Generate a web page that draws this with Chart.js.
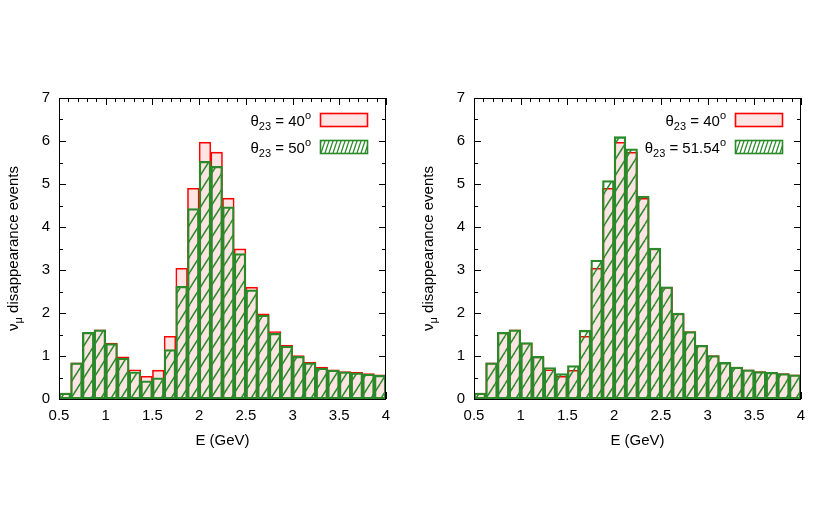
<!DOCTYPE html>
<html>
<head>
<meta charset="utf-8">
<script src="https://cdn.jsdelivr.net/npm/chart.js@4"></script>
<style>
  body { margin: 0; background: #fff; }
  #wrap { position: relative; width: 830px; height: 531px; }
  canvas { position: absolute; top: 0; }
</style>
</head>
<body>
<div id="wrap">
  <canvas id="leftChart" width="415" height="531" style="left:0"></canvas>
  <canvas id="rightChart" width="415" height="531" style="left:415px"></canvas>
</div>
<script>
// bin centres in GeV (bins 0.125 GeV wide, 0.5 .. 4)
const binCenters = [0.5625, 0.6875, 0.8125, 0.9375, 1.0625, 1.1875, 1.3125, 1.4375,
  1.5625, 1.6875, 1.8125, 1.9375, 2.0625, 2.1875, 2.3125, 2.4375, 2.5625, 2.6875,
  2.8125, 2.9375, 3.0625, 3.1875, 3.3125, 3.4375, 3.5625, 3.6875, 3.8125, 3.9375];

const events40 = [0.14, 0.84, 1.55, 1.61, 1.30, 0.98, 0.68, 0.53, 0.67, 1.46, 3.04, 4.90,
  5.97, 5.74, 4.67, 3.49, 2.60, 1.98, 1.57, 1.25, 1.01, 0.85, 0.74, 0.68, 0.64, 0.62, 0.59, 0.56];
const events50 = [0.14, 0.84, 1.55, 1.61, 1.29, 0.95, 0.63, 0.42, 0.49, 1.15, 2.62, 4.43,
  5.53, 5.41, 4.47, 3.38, 2.54, 1.95, 1.53, 1.23, 0.99, 0.84, 0.72, 0.67, 0.63, 0.61, 0.58, 0.55];
const events5154 = [0.14, 0.84, 1.55, 1.61, 1.31, 0.99, 0.73, 0.59, 0.78, 1.60, 3.23, 5.08,
  6.10, 5.82, 4.72, 3.51, 2.61, 2.00, 1.57, 1.25, 1.01, 0.85, 0.74, 0.68, 0.64, 0.62, 0.59, 0.56];

const xTicks = [0.5, 1, 1.5, 2, 2.5, 3, 3.5, 4];
const yTicks = [0, 1, 2, 3, 4, 5, 6, 7];

const RED = '#ff0000';
const PINK = '#ffe4e4';
const GREEN = '#2a8a2a';
const FONT = '"Liberation Sans", Arial, sans-serif';

function makeHatch(w, h, lw) {
  let c = document.createElement('canvas');
  c.width = w;
  c.height = h;
  let g = c.getContext('2d');
  g.strokeStyle = GREEN;
  g.lineWidth = lw;
  [-w, 0, w].forEach((dx) => {
    g.beginPath();
    g.moveTo(dx, h);
    g.lineTo(dx + w, 0);
    g.stroke();
  });
  return g.createPattern(c, 'repeat');
}

// draw pieces of text: [text, size, dy]
function drawParts(ctx, parts, xRight, y) {
  let w = 0;
  parts.forEach((p) => {
    ctx.font = p[1] + 'px ' + FONT;
    w += ctx.measureText(p[0]).width;
  });
  let x = xRight - w;
  parts.forEach((p) => {
    ctx.font = p[1] + 'px ' + FONT;
    ctx.fillText(p[0], x, y + p[2]);
    x += ctx.measureText(p[0]).width;
  });
}

const framePlugin = {
  id: 'frame',
  beforeDatasetsDraw(chart) {
    let ctx = chart.ctx;
    let a = chart.chartArea;
    let xs = chart.scales.x, ys = chart.scales.y;
    ctx.save();
    ctx.strokeStyle = '#000';
    ctx.lineWidth = 1;
    ctx.beginPath();
    for (let v = 0.5; v <= 4.0001; v += 0.1) {
      let px = Math.round(xs.getPixelForValue(v)) + 0.5;
      let major = Math.abs(v * 2 - Math.round(v * 2)) < 0.01;
      let len = major ? 7 : 4;
      ctx.moveTo(px, a.top); ctx.lineTo(px, a.top + len);
      ctx.moveTo(px, a.bottom); ctx.lineTo(px, a.bottom - len);
    }
    for (let v = 0; v <= 7; v += 0.5) {
      let py = Math.round(ys.getPixelForValue(v)) + 0.5;
      let len = Number.isInteger(v) ? 7 : 4;
      ctx.moveTo(a.left, py); ctx.lineTo(a.left + len, py);
      ctx.moveTo(a.right, py); ctx.lineTo(a.right - len, py);
    }
    ctx.stroke();
    ctx.restore();
  },
  afterDatasetsDraw(chart) {
    let ctx = chart.ctx;
    let a = chart.chartArea;
    ctx.save();
    ctx.strokeStyle = '#000';
    ctx.lineWidth = 1;
    ctx.strokeRect(Math.round(a.left) + 0.5, Math.round(a.top) + 0.5,
      Math.round(a.right - a.left) - 1, Math.round(a.bottom - a.top));
    ctx.restore();
  },
  afterDraw(chart) {
    let ctx = chart.ctx;
    let a = chart.chartArea;
    let opts = chart.options.plugins.frame;
    ctx.save();
    ctx.fillStyle = '#000';
    ctx.textBaseline = 'alphabetic';
    // legend
    let rows = [
      { label: '40', y: a.top + 28, box: a.top + 15, red: true },
      { label: opts.greenLabel, y: a.top + 55, box: a.top + 42, red: false }
    ];
    let keyHatch = makeHatch(4, 12, 1.3);
    rows.forEach((r) => {
      drawParts(ctx, [['\u03b8', 15, 0], ['23', 11, 4], [' = ' + r.label, 15, 0], ['o', 11, -7]],
        a.left + 252, r.y);
      let bx = a.left + 261.5, bw = 47, bh = 13;
      if (r.red) {
        ctx.fillStyle = PINK;
        ctx.fillRect(bx, r.box, bw, bh);
        ctx.strokeStyle = RED;
      } else {
        ctx.fillStyle = '#fff';
        ctx.fillRect(bx, r.box, bw, bh);
        ctx.fillStyle = keyHatch;
        ctx.fillRect(bx, r.box, bw, bh);
        ctx.strokeStyle = GREEN;
      }
      ctx.lineWidth = 1.6;
      ctx.strokeRect(bx, r.box + 0.5, bw, bh);
      ctx.fillStyle = '#000';
    });
    // y axis title with subscript mu
    ctx.translate(13, (a.top + a.bottom) / 2);
    ctx.rotate(-Math.PI / 2);
    let parts = [['\u03bd', 15, 0], ['\u03bc', 11, 4], [' disappearance events', 15, 0]];
    let w = 0;
    parts.forEach((p) => { ctx.font = p[1] + 'px ' + FONT; w += ctx.measureText(p[0]).width; });
    drawParts(ctx, parts, w / 2, 5);
    ctx.restore();
  }
};

function makeChart(id, redData, greenData, greenLabel) {
  let ctx = document.getElementById(id).getContext('2d');
  return new Chart(ctx, {
    type: 'bar',
    data: {
      datasets: [
        {
          label: 'theta23 = 40',
          data: binCenters.map((x, i) => ({ x: x, y: redData[i] })),
          backgroundColor: PINK,
          borderColor: RED,
          borderWidth: 1.6,
          borderSkipped: false,
          grouped: false,
          barPercentage: 1,
          categoryPercentage: 1,
          order: 1
        },
        {
          label: 'theta23 = ' + greenLabel,
          data: binCenters.map((x, i) => ({ x: x, y: greenData[i] })),
          backgroundColor: makeHatch(10, 16, 1.5),
          borderColor: GREEN,
          borderWidth: 1.6,
          borderSkipped: false,
          grouped: false,
          barPercentage: 1,
          categoryPercentage: 1,
          order: 0
        }
      ]
    },
    options: {
      responsive: false,
      animation: false,
      layout: { padding: { top: 98, right: 29, bottom: 81, left: 0 } },
      plugins: {
        legend: { display: false },
        tooltip: { enabled: false },
        frame: { greenLabel: greenLabel }
      },
      scales: {
        x: {
          type: 'linear',
          min: 0.5,
          max: 4,
          offset: false,
          grid: { display: false, drawTicks: false },
          border: { display: false },
          afterBuildTicks: (s) => { s.ticks = xTicks.map((v) => ({ value: v })); },
          afterFit: (s) => { s.height = 51; },
          ticks: {
            color: '#000',
            padding: 8,
            maxRotation: 0,
            autoSkip: false,
            font: { family: FONT, size: 15 },
            callback: (v) => String(v)
          },
          title: {
            display: true,
            text: 'E (GeV)',
            color: '#000',
            padding: { top: 4, bottom: 0 },
            font: { family: FONT, size: 15 }
          }
        },
        y: {
          min: 0,
          max: 7,
          grid: { display: false, drawTicks: false },
          border: { display: false },
          afterBuildTicks: (s) => { s.ticks = yTicks.map((v) => ({ value: v })); },
          afterFit: (s) => { s.width = 59; },
          ticks: {
            color: '#000',
            padding: 9,
            font: { family: FONT, size: 15 }
          }
        }
      }
    },
    plugins: [framePlugin]
  });
}

document.addEventListener('DOMContentLoaded', function () {
  makeChart('leftChart', events40, events50, '50');
  makeChart('rightChart', events40, events5154, '51.54');
});
</script>
</body>
</html>
